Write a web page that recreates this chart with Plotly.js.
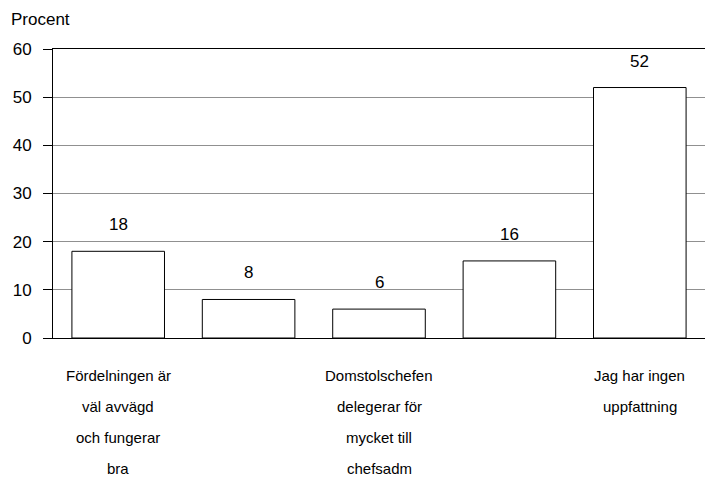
<!DOCTYPE html>
<html><head><meta charset="utf-8">
<script src="https://cdn.plot.ly/plotly-3.0.1.min.js"></script>
<style>html,body{margin:0;padding:0;background:#fff;overflow:hidden}</style>
</head><body><div id="chart" style="width:705px;height:477px"></div>
<script>
// Answer categories (bars 2 and 4 carry no printed label)
const categories = [1, 2, 3, 4, 5];
const categoryLabels = [
  ["Fördelningen är", "väl avvägd", "och fungerar", "bra"],
  [],
  ["Domstolschefen", "delegerar för", "mycket till", "chefsadm"],
  [],
  ["Jag har ingen", "uppfattning"]
];
// Share of respondents, percent
const values = [18, 8, 6, 16, 52];
const yTicks = [0, 10, 20, 30, 40, 50, 60];
const yAxisLabel = "Procent";

const FONT = "Liberation Sans, Arial, sans-serif";

const annotations = [];
values.forEach((v, i) => {
  annotations.push({
    x: categories[i], y: v, xref: "x", yref: "y",
    text: String(v), showarrow: false,
    yanchor: "bottom", yshift: 15,
    font: {family: FONT, size: 17, color: "#000"}
  });
});
categoryLabels.forEach((lines, i) => {
  lines.forEach((line, j) => {
    annotations.push({
      x: categories[i], y: 0, xref: "x", yref: "paper",
      text: line, showarrow: false,
      yanchor: "middle", yshift: -(37 + j * 31),
      font: {family: FONT, size: 15, color: "#000"}
    });
  });
});
annotations.push({
  x: 0, y: 1, xref: "paper", yref: "paper",
  xanchor: "left", yanchor: "middle",
  xshift: -44, yshift: 30,
  text: yAxisLabel, showarrow: false,
  font: {family: FONT, size: 17, color: "#000"}
});

const trace = {
  type: "bar",
  x: categories,
  y: values,
  marker: {color: "#ffffff", line: {color: "#000000", width: 1}},
  hoverinfo: "skip"
};

const layout = {
  width: 705, height: 477,
  margin: {l: 53, r: 0, t: 49, b: 139},
  paper_bgcolor: "#fff", plot_bgcolor: "#fff",
  showlegend: false,
  bargap: 0.29,
  font: {family: FONT, color: "#000"},
  xaxis: {
    range: [0.5, 5.5],
    showticklabels: false, ticks: "",
    showgrid: false, zeroline: false,
    showline: true, linecolor: "#000", linewidth: 1, mirror: true
  },
  yaxis: {
    range: [0, 60],
    tickvals: yTicks, ticktext: yTicks.map(String),
    ticks: "outside", ticklen: 9, tickcolor: "#000", tickwidth: 1,
    ticklabelstandoff: 8,
    tickfont: {family: FONT, size: 17, color: "#000"},
    showgrid: true, gridcolor: "#909090", gridwidth: 1,
    zeroline: false,
    showline: true, linecolor: "#000", linewidth: 1
  },
  annotations: annotations
};

Plotly.newPlot("chart", [trace], layout, {staticPlot: true, displayModeBar: false});
</script>
</body></html>
